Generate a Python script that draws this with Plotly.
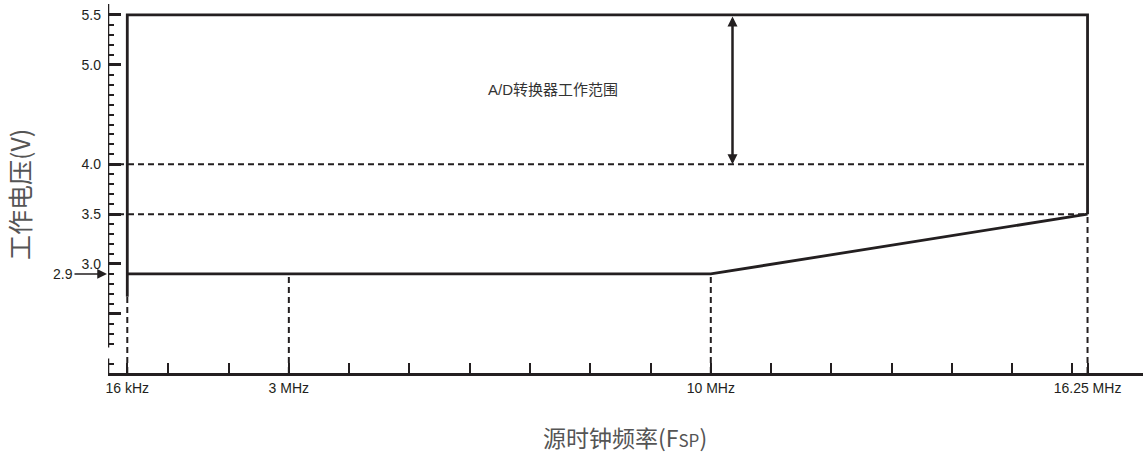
import plotly.graph_objects as go

# ---- data (frequencies in MHz; 16 kHz drawn schematically near the origin) ----
freq_labels = ["16 kHz", "3 MHz", "10 MHz", "16.25 MHz"]
freq_pos = [0.32, 3.0, 10.0, 16.25]
freq_minor_ticks = [1, 2, 4, 5, 6, 7, 8, 9, 11, 12, 13, 14, 15, 16]

volt_tick_vals = [2.5, 3.0, 3.5, 4.0, 5.0, 5.5]
volt_tick_text = ["", "3.0", "3.5", "4.0", "5.0", "5.5"]

v_min_low = 2.9      # min operating voltage up to 10 MHz
v_min_high = 3.5     # min operating voltage at 16.25 MHz
v_max = 5.5          # max operating voltage
v_ad = 4.0           # A/D converter lower limit
left_solid_bottom = 2.67
ad_arrow_freq = 10.36
ad_label = "A/D转换器工作范围"
ad_label_pos = (7.38, 4.75)

x_range = [0, 17.17]
y_range = [1.905, 5.61]
y_axis_break = [2.05, 2.16]

INK = "#231f20"
f16k, f3, f10, f1625 = freq_pos

fig = go.Figure()

dash = "6px,4px"
# dashed horizontal reference lines
fig.add_trace(go.Scatter(
    x=[0, f1625, None, 0, f1625],
    y=[v_ad, v_ad, None, v_min_high, v_min_high],
    mode="lines", line=dict(color=INK, width=2, dash=dash),
    hoverinfo="skip", showlegend=False))
# dashed vertical drop lines
fig.add_trace(go.Scatter(
    x=[f16k, f16k, None, f3, f3, None, f10, f10, None, f1625, f1625],
    y=[y_range[0], left_solid_bottom, None, y_range[0], v_min_low, None,
       y_range[0], v_min_low, None, y_range[0], v_min_high],
    mode="lines", line=dict(color=INK, width=2, dash=dash),
    hoverinfo="skip", showlegend=False))
# solid outline of operating region
fig.add_trace(go.Scatter(
    x=[f16k, f16k, f1625, f1625],
    y=[left_solid_bottom, v_max, v_max, v_min_high],
    mode="lines", line=dict(color=INK, width=2.8),
    hoverinfo="skip", showlegend=False))
fig.add_trace(go.Scatter(
    x=[f16k, f10, f1625],
    y=[v_min_low, v_min_low, v_min_high],
    mode="lines", line=dict(color=INK, width=2.8),
    hoverinfo="skip", showlegend=False))

# broken y-axis line
fig.add_shape(type="line", xref="x", yref="y", x0=0, x1=0,
              y0=y_axis_break[1], y1=y_range[1], line=dict(color=INK, width=2.5))
fig.add_shape(type="line", xref="x", yref="y", x0=0, x1=0,
              y0=y_range[0], y1=y_axis_break[0], line=dict(color=INK, width=2.5))

# double-headed arrow for A/D range
fig.add_annotation(x=ad_arrow_freq, y=v_ad, ax=ad_arrow_freq, ay=v_max,
                   xref="x", yref="y", axref="x", ayref="y", text="",
                   showarrow=True, arrowhead=2, startarrowhead=2,
                   arrowside="end+start", arrowwidth=2.5, arrowsize=0.8,
                   startarrowsize=0.8, arrowcolor=INK, standoff=0, startstandoff=0)
fig.add_annotation(x=ad_label_pos[0], y=ad_label_pos[1], xref="x", yref="y",
                   text=ad_label, showarrow=False, xanchor="center", yanchor="middle",
                   font=dict(family="Liberation Sans, Noto Sans CJK SC", size=15, color="#333333"))

# 2.9 V marker with arrow
fig.add_annotation(x=0, y=v_min_low, xref="x", yref="y", ax=-45, ay=0,
                   text="2.9", showarrow=True, arrowhead=2, arrowwidth=1.5,
                   arrowsize=1.3, arrowcolor=INK, standoff=1,
                   font=dict(family="Liberation Sans, Arial", size=14, color=INK))

# axis titles
fig.add_annotation(xref="paper", yref="paper", x=-0.086, y=0.485,
                   xanchor="center", yanchor="middle",
                   text="工作电压(V)", textangle=-90, showarrow=False,
                   font=dict(family="Noto Sans CJK SC", size=25, color="#555555"))
fig.add_annotation(xref="paper", yref="paper", x=0.4995, y=-0.173,
                   xanchor="center", yanchor="middle",
                   text='源时钟频率(F<span style="font-size:17px">SP</span>)',
                   showarrow=False,
                   font=dict(family="Noto Sans CJK SC", size=23, color="#555555"))

minor_y = [round(2.0 + 0.1 * i, 1) for i in range(36)]
minor_y = [v for v in minor_y if v not in volt_tick_vals and v != 2.1]

fig.update_layout(
    width=1143, height=454,
    margin=dict(l=108, r=0, t=4, b=81),
    paper_bgcolor="white", plot_bgcolor="white",
    font=dict(family="Liberation Sans, Arial", size=14, color=INK),
    xaxis=dict(range=x_range, showgrid=False, zeroline=False, automargin=False,
               showline=True, linecolor=INK, linewidth=2.5,
               tickmode="array", tickvals=freq_pos, ticktext=freq_labels,
               ticks="inside", ticklen=10, tickwidth=2, tickcolor=INK,
               tickfont=dict(size=14, color=INK),
               minor=dict(tickmode="array", tickvals=freq_minor_ticks,
                          ticks="inside", ticklen=10, tickwidth=2, tickcolor=INK,
                          showgrid=False)),
    yaxis=dict(range=y_range, showgrid=False, zeroline=False, showline=False,
               automargin=False, ticklabelstandoff=6,
               tickmode="array", tickvals=volt_tick_vals, ticktext=volt_tick_text,
               ticks="inside", ticklen=13, tickwidth=3, tickcolor=INK,
               tickfont=dict(size=14, color=INK),
               minor=dict(tickmode="array", tickvals=minor_y,
                          ticks="inside", ticklen=6, tickwidth=1.5, tickcolor=INK,
                          showgrid=False)),
)

fig.write_html(
    "out.html",
    config={"displayModeBar": False},
    post_script="document.body.style.margin='0';document.body.style.overflow='hidden';",
)
